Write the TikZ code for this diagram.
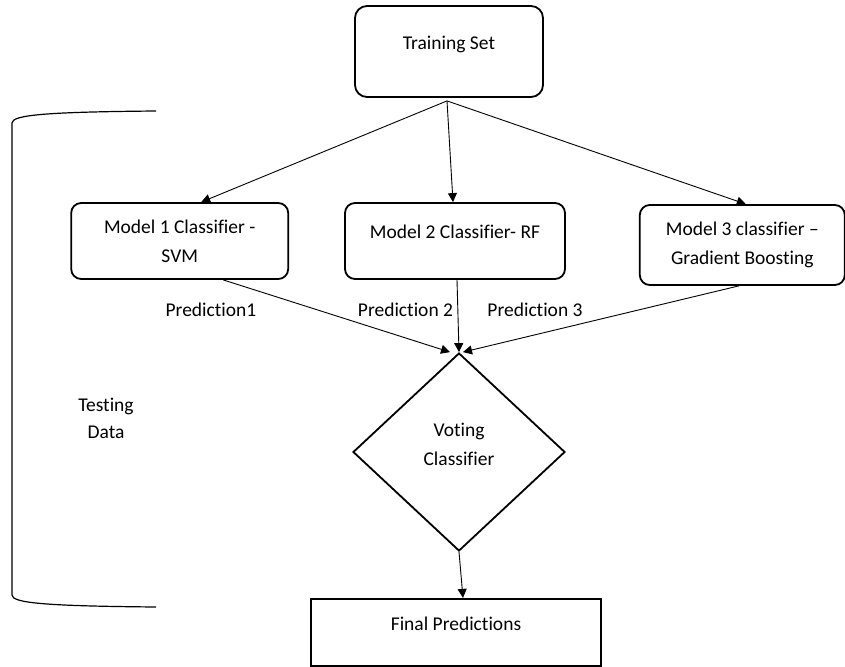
\documentclass[tikz,border=0pt]{standalone}
\usepackage{fontspec}
\setmainfont{Carlito}[Ligatures=CommonOff]
\usetikzlibrary{positioning,arrows.meta,shapes.geometric}

\begin{document}
\begin{tikzpicture}[x=1pt,y=-1pt,
    font=\fontsize{19.5}{29}\selectfont,
    trainbox/.style={rectangle,rounded corners=12pt,line width=1.8pt,draw,
		minimum width=188pt,minimum height=91pt,text depth=17pt},
    modelbox/.style={rectangle,rounded corners=10pt,line width=1.8pt,draw,
		align=center,minimum height=76pt,inner sep=0pt},
    votebox/.style={diamond,line width=1.8pt,draw,align=center,
		minimum width=212pt,minimum height=198pt,inner sep=0pt,text depth=16pt},
    finalbox/.style={rectangle,line width=1.8pt,draw,
		minimum width=290pt,minimum height=67pt,text depth=17pt},
% Label and arrow styles
    predtext/.style={inner sep=0pt},
    flow/.style={line width=0.9pt,-{Triangle[length=9pt,width=9pt]}}
    ]
   \useasboundingbox (0,0) rectangle (845,666);
%%% Draw the boxes
   \node [trainbox] (train) at (449,51.5) {Training Set};
   \coordinate (split) at ([xshift=-2pt,yshift=-3pt]train.south);

   \node [modelbox, minimum width=220pt, text depth=18pt] (m2) at (455,241)
		{Model 2 Classifier- RF};
   \node [modelbox, minimum width=217pt] [left=55pt of m2] (m1)
		{Model 1 Classifier -\\SVM};
   \node [modelbox, minimum width=205pt, minimum height=80pt]
		[right=73pt of m2, yshift=-4pt] (m3)
		{Model 3 classifier –\\Gradient Boosting};

   \node [votebox] (vote) at (459,452) {Voting\\Classifier};
   \node [finalbox] [below=46pt of vote, xshift=-3pt] (final) {Final Predictions};

%%% Prediction labels
   \node [predtext] (p1) at (211,310) {Prediction1};
   \node [predtext] (p2) at (405.5,310) {Prediction 2};
   \node [predtext] (p3) at (535,310) {Prediction 3};

%%% Bracket for the testing data
   \draw [line width=1.2pt] (156,111) .. controls (45,112) and (12,115) .. (12,123)
		-- (12,595) .. controls (12,603) and (45,606) .. (156,607);
   \node [align=center, font=\fontsize{19.5}{27}\selectfont] (testing) at (106,418)
		{Testing\\Data};

%%% Arrows
   \draw [flow] (split) -- ([xshift=21.5pt]m1.north);
   \draw [flow] (split) -- ([xshift=-2pt]m2.north);
   \draw [flow] (split) -- ([xshift=3.5pt]m3.north);

   \draw [flow] ([xshift=43.5pt]m1.south) -- ([xshift=-9pt]vote.north);
   \draw [flow] ([xshift=2pt]m2.south) -- (vote.north);
   \draw [flow] ([xshift=-3.5pt]m3.south) -- ([xshift=4pt]vote.north);

   \draw [flow] (vote.south) -- ([xshift=7pt]final.north);
\end{tikzpicture}
\end{document}
